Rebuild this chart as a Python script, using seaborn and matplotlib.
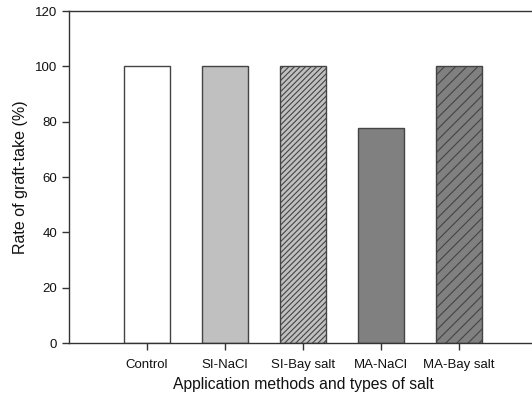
import matplotlib
matplotlib.use("Agg")
import matplotlib.pyplot as plt
import seaborn as sns
import pandas as pd

categories = ["Control", "SI-NaCl", "SI-Bay salt", "MA-NaCl", "MA-Bay salt"]
values = [100, 100, 100, 77.8, 100]
fills = ["#ffffff", "#c0c0c0", "#c0c0c0", "#808080", "#808080"]
hatches = [None, None, "//////", None, "///"]

sns.set_theme(style="ticks")
plt.rcParams["font.family"] = ["Liberation Sans", "DejaVu Sans"]
plt.rcParams["hatch.color"] = "#333333"
plt.rcParams["hatch.linewidth"] = 0.8

df = pd.DataFrame({"cat": categories, "val": values})

fig = plt.figure(figsize=(5.32, 4.0), dpi=100)
ax = fig.add_axes([69/532, 1 - 343/400, (537-69)/532, (343-11)/400])

sns.barplot(data=df, x="cat", y="val", hue="cat", palette=fills, legend=False,
            width=0.6, edgecolor="#444444", linewidth=1.0, ax=ax, saturation=1)

for p, h in zip(ax.patches, hatches):
    if h:
        p.set_hatch(h)

ax.set_xlim(-1, 5)
ax.set_ylim(0, 120)
ax.set_yticks(range(0, 121, 20))
ax.spines["right"].set_visible(False)
for s in ["left", "bottom", "top"]:
    ax.spines[s].set_color("#333333")
    ax.spines[s].set_linewidth(1.0)
ax.tick_params(axis="both", direction="out", length=5, width=1, color="#333333",
               labelsize=9.5, labelcolor="#111111")
ax.tick_params(axis="x", pad=6.5)
ax.set_xlabel("Application methods and types of salt", fontsize=11.3, labelpad=4, color="#111111")
ax.set_ylabel("Rate of graft-take (%)", fontsize=11.5, labelpad=5, color="#111111")

fig.savefig("out.png", dpi=100)
